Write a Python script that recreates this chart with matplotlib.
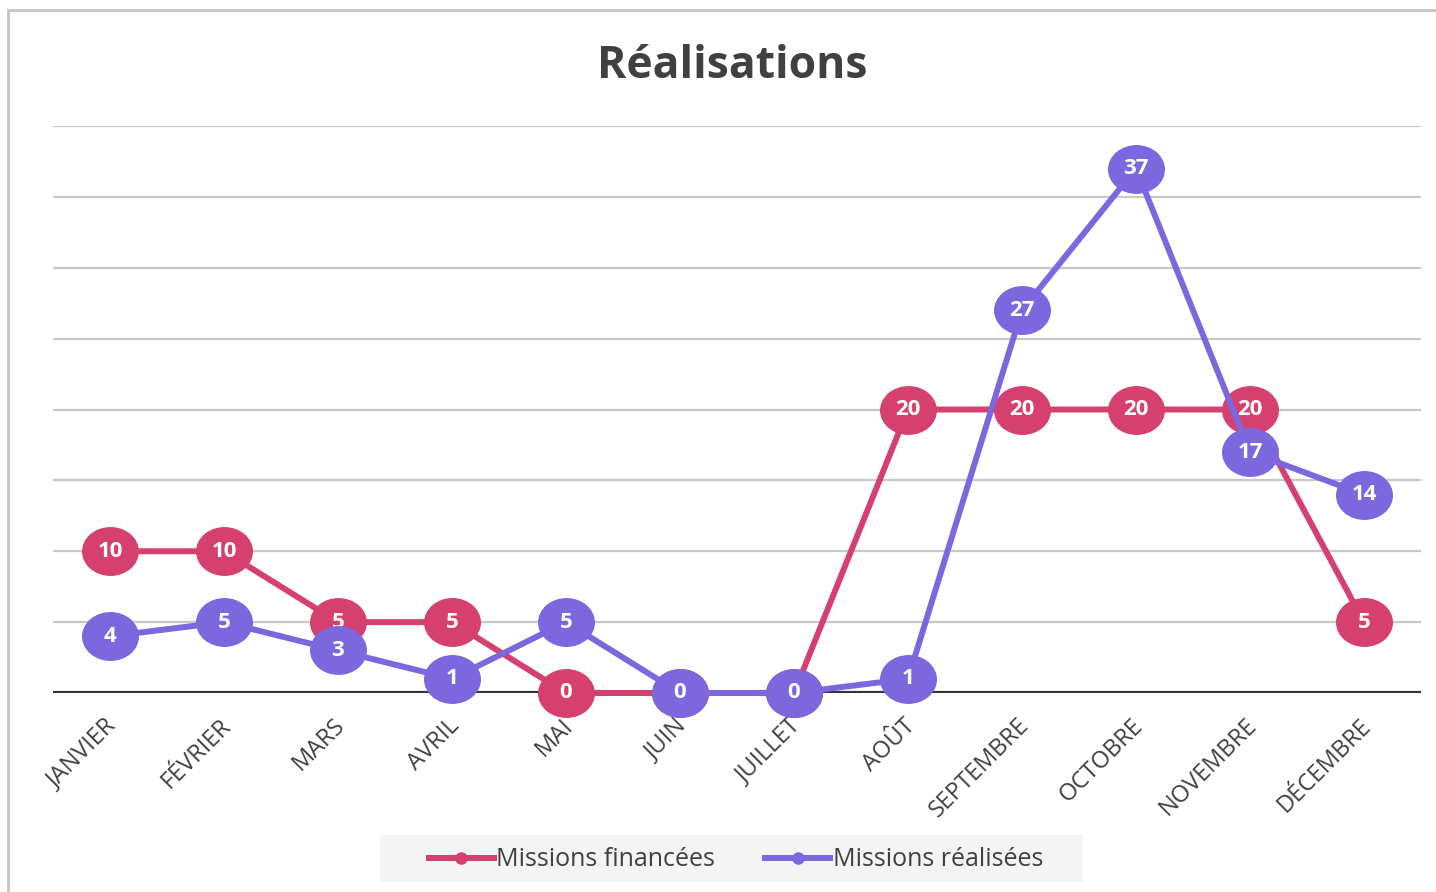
import matplotlib
matplotlib.use("Agg")
import matplotlib.pyplot as plt
import numpy as np
from matplotlib.path import Path
from matplotlib.markers import MarkerStyle
from matplotlib.lines import Line2D
from matplotlib.patches import Rectangle
import matplotlib.transforms as mtransforms

months = ["JANVIER", "FÉVRIER", "MARS", "AVRIL", "MAI", "JUIN", "JUILLET",
          "AOÛT", "SEPTEMBRE", "OCTOBRE", "NOVEMBRE", "DÉCEMBRE"]
financees = [10, 10, 5, 5, 0, 0, 0, 20, 20, 20, 20, 5]
realisees = [4, 5, 3, 1, 5, 0, 0, 1, 27, 37, 17, 14]
series_names = ["Missions financées", "Missions réalisées"]
grid_ticks = [0, 5, 10, 15, 20, 25, 30, 35, 40]

PINK = "#D6406E"
PURPLE = "#7C67DF"
TXT = "#404040"
FONT = ["Open Sans", "DejaVu Sans"]

plt.rcParams["font.family"] = FONT

fig = plt.figure(figsize=(14.36, 8.92), dpi=100)
W, H = 1436, 892

# outer frame
fig.patches.append(Rectangle((8 / W, -0.05), 1.2, 1 - 10 / H + 0.05,
                             transform=fig.transFigure, fill=False,
                             edgecolor="#C4C4C4", linewidth=2.0, zorder=0))

ax = fig.add_axes([53 / W, 1 - 693 / H, (1421 - 53) / W, (693 - 126) / H])
x = np.arange(len(months))
ax.set_xlim(-0.5, len(months) - 0.5)
ax.set_ylim(0, 40)

for g in grid_ticks[1:]:
    ax.axhline(g, color="#C8C8C8", linewidth=1.6, zorder=1)
ax.axhline(0, color="#333333", linewidth=3.0, zorder=1.5)

for s in ax.spines.values():
    s.set_visible(False)
ax.set_yticks([])
ax.set_xticks(x)
ax.set_xticklabels(months, rotation=45, ha="right", rotation_mode="anchor",
                   fontsize=17, color=TXT)
ax.tick_params(axis="x", length=0, pad=15)
offset = mtransforms.ScaledTranslation(-5 / 100, 0, fig.dpi_scale_trans)
for lbl in ax.get_xticklabels():
    lbl.set_transform(lbl.get_transform() + offset)

circ = Path.unit_circle()
ell = Path(circ.vertices * np.array([1.17, 1.0]), circ.codes)
mk = MarkerStyle(ell)

for vals, col, z in [(financees, PINK, 3), (realisees, PURPLE, 5)]:
    ax.plot(x, vals, color=col, linewidth=4.3, zorder=z, solid_capstyle="round",
            clip_on=False)
    ax.plot(x, vals, linestyle="none", marker=mk, markersize=40,
            markerfacecolor=col, markeredgecolor=col, zorder=z + 0.5, clip_on=False)
    for xi, v in zip(x, vals):
        ax.text(xi, v, str(v), ha="center", va="center", color="white",
                fontsize=16, fontweight="bold", zorder=z + 1)

fig.text(732 / W, 1 - 66 / H, "Réalisations", ha="center", va="center",
         fontsize=32, fontweight="bold", color=TXT)

# legend background
fig.patches.append(Rectangle((380 / W, 1 - 882 / H), 703 / W, 47 / H,
                             transform=fig.transFigure, facecolor="#F4F4F4",
                             edgecolor="none", zorder=0.5))
handles = [Line2D([], [], color=PINK, linewidth=4.3, marker="o", markersize=8),
           Line2D([], [], color=PURPLE, linewidth=4.3, marker="o", markersize=8)]
leg = fig.legend(handles, series_names, loc="center", bbox_to_anchor=(736 / W, 1 - 860 / H),
                 ncol=2, frameon=False, fontsize=18, handlelength=2.6,
                 handletextpad=0.1, columnspacing=2.0, labelcolor=TXT)

fig.savefig("out.png", dpi=100)
